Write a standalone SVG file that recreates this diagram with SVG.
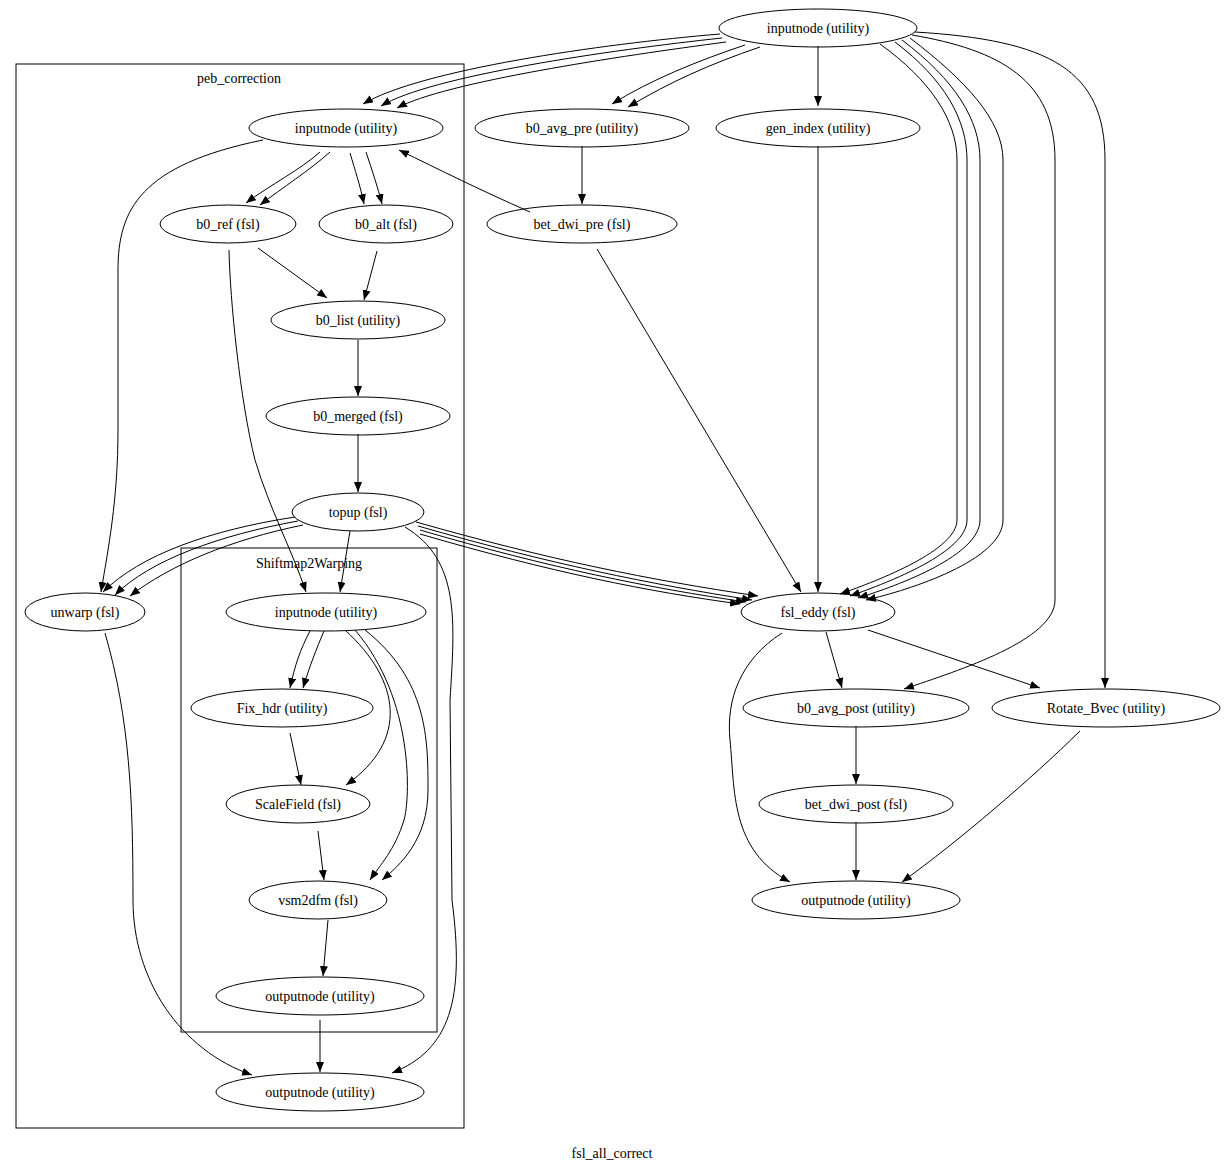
<svg xmlns="http://www.w3.org/2000/svg" width="1226" height="1175" viewBox="0 0 1226 1175">
<style>
ellipse{fill:none;stroke:#000;stroke-width:1}
text{font-family:"Liberation Serif","Times New Roman",serif;font-size:14px;text-anchor:middle;fill:#000}
.e path{fill:none;stroke:#000;stroke-width:1;marker-end:url(#a)}
.c{fill:none;stroke:#000}
</style>
<defs><marker id="a" markerWidth="10" markerHeight="8" refX="10" refY="4" orient="auto" markerUnits="userSpaceOnUse"><path d="M0,0 L10,4 L0,8 Z" fill="#000"/></marker></defs>
<rect width="1226" height="1175" fill="#fff"/>
<g id="peb_correction"><rect class="c" x="16" y="64" width="448" height="1064"/><text x="239" y="83">peb_correction</text></g>
<g id="Shiftmap2Warping"><rect class="c" x="181" y="548" width="256" height="484"/><text x="309" y="568">Shiftmap2Warping</text></g>
<g class="e" id="edges">
<path d="M720,34 C600,44 420,70 363,104"/>
<path d="M722,38 C610,50 430,76 381,106"/>
<path d="M726,42 C620,56 445,82 397,108"/>
<path d="M745,45 C700,60 650,80 612,104"/>
<path d="M760,47 C710,64 670,82 628,107"/>
<path d="M818,46 L818,106"/>
<path d="M880,44 C930,80 957,120 957,160 L957,520 C957,550 880,580 840,594"/>
<path d="M895,42 C945,80 967,120 967,160 L967,520 C967,552 890,582 850,596"/>
<path d="M902,40 C955,80 980,120 980,160 L980,520 C980,555 900,585 858,598"/>
<path d="M910,38 C965,80 1003,120 1003,160 L1003,520 C1003,560 910,590 866,600"/>
<path d="M912,35 C1000,50 1055,80 1055,160 L1055,600 C1055,640 960,670 904,689"/>
<path d="M915,32 C1050,40 1105,70 1105,160 L1105,688"/>
<path d="M263,140 C140,165 118,210 118,270 L118,430 C118,500 108,550 101,592"/>
<path d="M320,152 C300,170 270,185 246,203"/>
<path d="M330,152 C310,170 282,188 260,205"/>
<path d="M350,153 C355,170 360,185 364,204"/>
<path d="M366,152 C372,170 378,188 382,204"/>
<path d="M530,212 C480,190 440,170 399,150"/>
<path d="M582,146 L582,204"/>
<path d="M818,146 L818,592"/>
<path d="M597,249 L801,592"/>
<path d="M258,248 L327,298"/>
<path d="M377,251 L364,300"/>
<path d="M229,250 C230,300 240,400 255,460 C270,510 292,550 306,592"/>
<path d="M358,340 L358,396"/>
<path d="M358,434 L358,492"/>
<path d="M295,517 C210,530 140,555 103,592"/>
<path d="M298,521 C220,535 150,560 115,595"/>
<path d="M303,525 C230,540 170,565 130,596"/>
<path d="M350,531 L340,592"/>
<path d="M416,522 C550,560 650,580 758,596"/>
<path d="M418,526 C550,564 650,584 752,600"/>
<path d="M420,530 C550,568 650,588 746,602"/>
<path d="M420,534 C550,572 650,592 740,604"/>
<path d="M405,527 C460,560 455,620 450,700 L452,900 C465,1000 450,1050 392,1073"/>
<path d="M105,633 C130,720 133,800 133,900 C133,980 180,1050 252,1075"/>
<path d="M310,631 C300,650 295,665 290,688"/>
<path d="M324,631 C316,650 310,665 303,688"/>
<path d="M345,630 C400,680 410,740 346,785"/>
<path d="M355,630 C415,700 410,800 404,820 C395,850 380,865 370,880"/>
<path d="M365,630 C428,680 428,740 428,790 C428,840 400,865 382,880"/>
<path d="M290,733 L301,785"/>
<path d="M318,831 L324,880"/>
<path d="M328,920 L323,976"/>
<path d="M320,1020 L320,1072"/>
<path d="M826,632 L842,688"/>
<path d="M868,630 L1040,688"/>
<path d="M782,633 C740,660 726,700 730,740 C735,790 730,850 790,882"/>
<path d="M856,726 L856,784"/>
<path d="M856,822 L856,880"/>
<path d="M1080,731 C1030,780 960,840 902,882"/>
</g>
<g id="n_top"><ellipse cx="818" cy="28" rx="99" ry="19"/><text x="818" y="33">inputnode (utility)</text></g>
<g id="n_pinput"><ellipse cx="346" cy="128" rx="97" ry="19"/><text x="346" y="133">inputnode (utility)</text></g>
<g id="n_b0avgpre"><ellipse cx="582" cy="128" rx="107" ry="19"/><text x="582" y="133">b0_avg_pre (utility)</text></g>
<g id="n_genindex"><ellipse cx="818" cy="128" rx="102" ry="19"/><text x="818" y="133">gen_index (utility)</text></g>
<g id="n_b0ref"><ellipse cx="228" cy="224" rx="68" ry="19"/><text x="228" y="229">b0_ref (fsl)</text></g>
<g id="n_b0alt"><ellipse cx="386" cy="224" rx="67" ry="19"/><text x="386" y="229">b0_alt (fsl)</text></g>
<g id="n_betpre"><ellipse cx="582" cy="224" rx="95" ry="19"/><text x="582" y="229">bet_dwi_pre (fsl)</text></g>
<g id="n_b0list"><ellipse cx="358" cy="320" rx="87" ry="19"/><text x="358" y="325">b0_list (utility)</text></g>
<g id="n_b0merged"><ellipse cx="358" cy="416" rx="92" ry="19"/><text x="358" y="421">b0_merged (fsl)</text></g>
<g id="n_topup"><ellipse cx="358" cy="512" rx="66" ry="19"/><text x="358" y="517">topup (fsl)</text></g>
<g id="n_unwarp"><ellipse cx="85" cy="612" rx="60" ry="19"/><text x="85" y="617">unwarp (fsl)</text></g>
<g id="n_sinput"><ellipse cx="326" cy="612" rx="100" ry="19"/><text x="326" y="617">inputnode (utility)</text></g>
<g id="n_eddy"><ellipse cx="818" cy="612" rx="77" ry="19"/><text x="818" y="617">fsl_eddy (fsl)</text></g>
<g id="n_fixhdr"><ellipse cx="282" cy="708" rx="91" ry="19"/><text x="282" y="713">Fix_hdr (utility)</text></g>
<g id="n_b0avgpost"><ellipse cx="856" cy="708" rx="113" ry="19"/><text x="856" y="713">b0_avg_post (utility)</text></g>
<g id="n_rotate"><ellipse cx="1106" cy="708" rx="114" ry="19"/><text x="1106" y="713">Rotate_Bvec (utility)</text></g>
<g id="n_scale"><ellipse cx="298" cy="804" rx="72" ry="19"/><text x="298" y="809">ScaleField (fsl)</text></g>
<g id="n_betpost"><ellipse cx="856" cy="804" rx="97" ry="19"/><text x="856" y="809">bet_dwi_post (fsl)</text></g>
<g id="n_vsm"><ellipse cx="318" cy="900" rx="69" ry="19"/><text x="318" y="905">vsm2dfm (fsl)</text></g>
<g id="n_out"><ellipse cx="856" cy="900" rx="104" ry="19"/><text x="856" y="905">outputnode (utility)</text></g>
<g id="n_sout"><ellipse cx="320" cy="996" rx="104" ry="19"/><text x="320" y="1001">outputnode (utility)</text></g>
<g id="n_pout"><ellipse cx="320" cy="1092" rx="104" ry="19"/><text x="320" y="1097">outputnode (utility)</text></g>
<text x="612" y="1158">fsl_all_correct</text>
</svg>
